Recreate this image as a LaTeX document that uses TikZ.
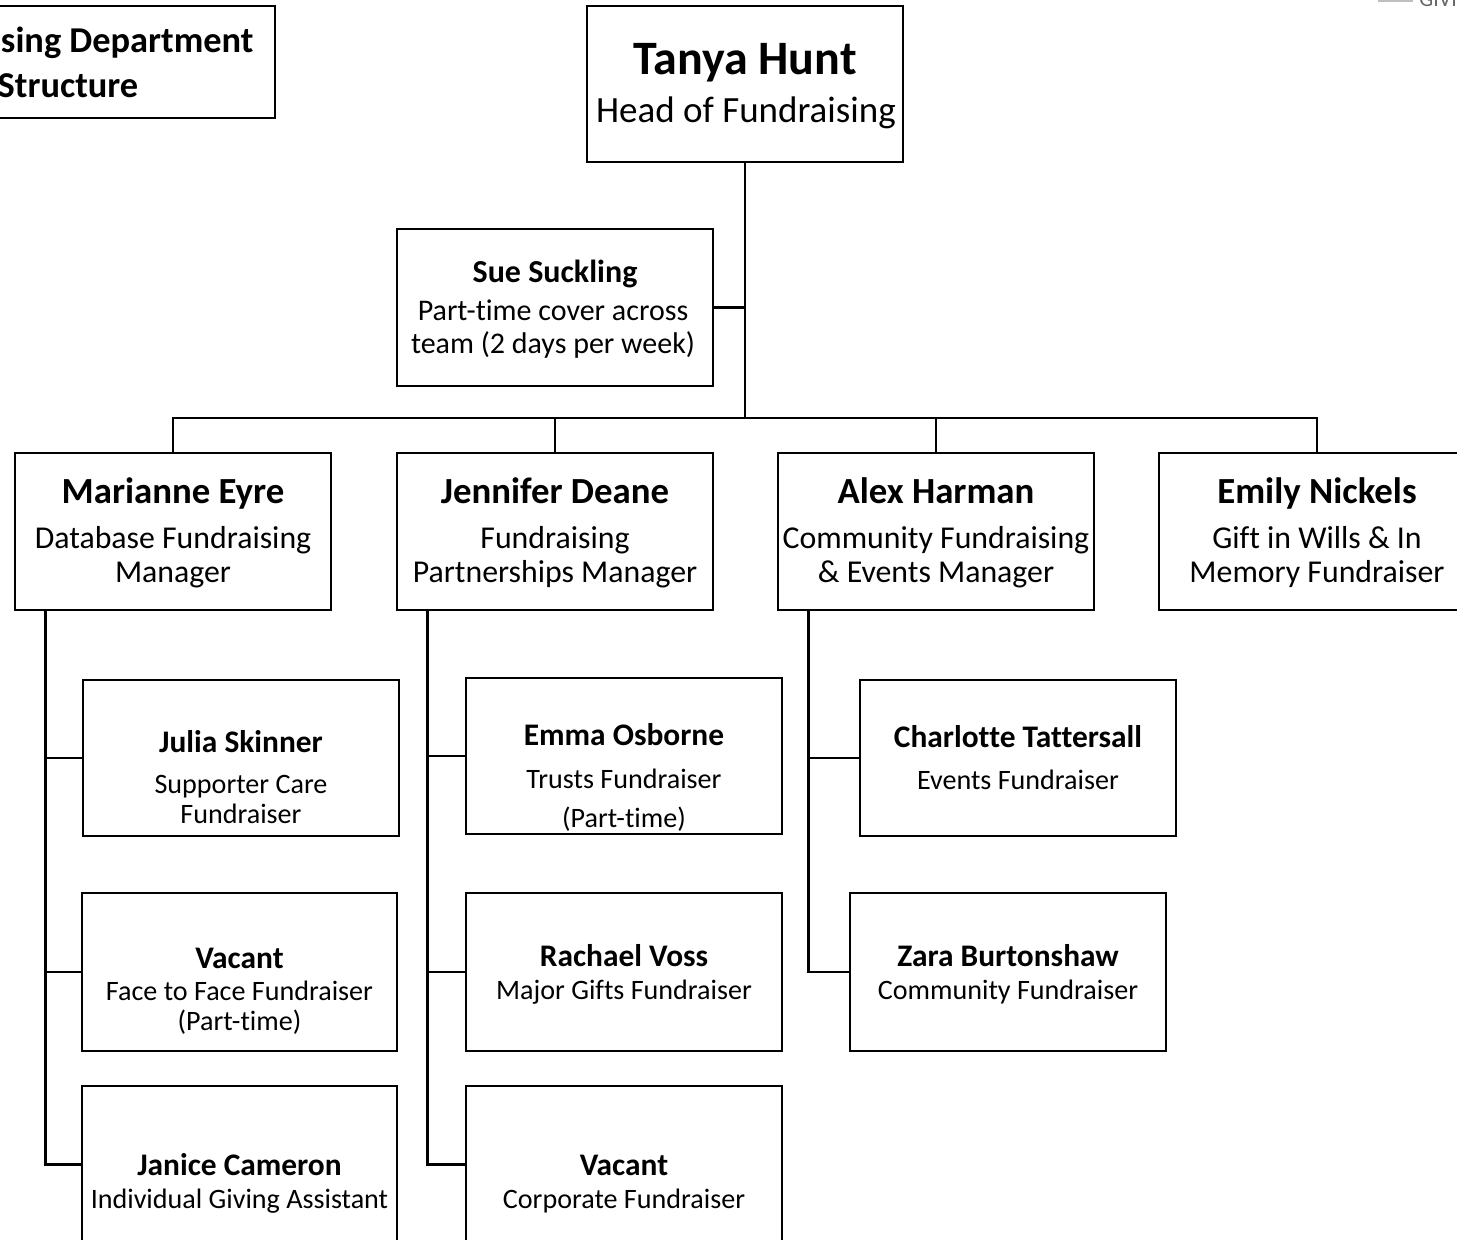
\documentclass[tikz,border=0pt]{standalone}
\usepackage{fontspec}
\setmainfont{Carlito}[Ligatures=NoCommon]
\begin{document}
\begin{tikzpicture}[x=0.5pt,y=-0.5pt,
  box/.style={draw, line width=1.4pt, minimum width=158pt, minimum height=78.5pt, inner sep=0pt},
  con/.style={line width=1.4pt},
  hdname/.style={anchor=base, inner sep=0pt, font=\bfseries\fontsize{24}{28}\selectfont},
  hdrole/.style={anchor=base, inner sep=0pt, font=\fontsize{18.5}{22}\selectfont},
  mgname/.style={anchor=base, inner sep=0pt, font=\bfseries\fontsize{18.4}{22}\selectfont},
  mgrole/.style={anchor=base, inner sep=0pt, font=\fontsize{15.9}{19}\selectfont},
  ssname/.style={anchor=base, inner sep=0pt, font=\bfseries\fontsize{16}{19}\selectfont},
  ssrole/.style={anchor=base, inner sep=0pt, font=\fontsize{15}{18}\selectfont},
  sbname/.style={anchor=base, inner sep=0pt, font=\bfseries\fontsize{15.7}{19}\selectfont},
  sbrole/.style={anchor=base, inner sep=0pt, font=\fontsize{14.05}{17}\selectfont}
]
\clip (0,0) rectangle (1457,1239);

% logo fragment
\coordinate (lg1) at (1378,1);
\coordinate (lg2) at (1413,1);
\draw[gray!50, line width=0.8pt] (lg1) -- (lg2);
\node[anchor=base west, inner sep=0pt, text=gray!80!black, font=\fontsize{11}{13}\selectfont] (gv) at (1419,6) {GIVI};

% title
\node[box, minimum width={414*0.5pt}, minimum height={112*0.5pt}] (tb) at (68,62) {};
\node[mgname, font=\bfseries\fontsize{18.2}{22}\selectfont] (tt1) at (70,52) {Fundraising Department};
\node[mgname, font=\bfseries\fontsize{18.2}{22}\selectfont] (tt2) at (68,97) {Structure};

% head
\node[box, minimum height=78pt] (th) at (745,84) {};
\node[hdname] (th1) at (745,74) {Tanya Hunt};
\node[hdrole] (th2) at (746,122) {Head of Fundraising};

% Sue
\node[box] (ss) at (555,307.5) {};
\node[ssname] (ss1) at (555,282) {Sue Suckling};
\node[ssrole] (ss2) at (553,320) {Part-time cover across};
\node[ssrole] (ss3) at (553,353) {team (2 days per week)};

% managers
\node[box] (me) at (173,531.5) {};
\node[mgname] (me1) at (173,503) {Marianne Eyre};
\node[mgrole] (me2) at (173,548) {Database Fundraising};
\node[mgrole] (me3) at (173,582) {Manager};

\node[box] (jd) at (555,531.5) {};
\node[mgname] (jd1) at (555,503) {Jennifer Deane};
\node[mgrole] (jd2) at (555,548) {Fundraising};
\node[mgrole] (jd3) at (555,582) {Partnerships Manager};

\node[box] (ah) at (936,531.5) {};
\node[mgname] (ah1) at (936,503) {Alex Harman};
\node[mgrole] (ah2) at (936,548) {Community Fundraising};
\node[mgrole] (ah3) at (936,582) {\& Events Manager};

\node[box] (en) at (1317,531.5) {};
\node[mgname] (en1) at (1317,503) {Emily Nickels};
\node[mgrole] (en2) at (1317,548) {Gift in Wills \& In};
\node[mgrole] (en3) at (1317,582) {Memory Fundraiser};

% Marianne's team
\node[box, minimum height=78pt] (js) at (241,758) {};
\node[sbname] (js1) at (241,752) {Julia Skinner};
\node[sbrole] (js2) at (241,793) {Supporter Care};
\node[sbrole] (js3) at (241,823) {Fundraiser};

\node[box, minimum width=157.5pt, minimum height=79pt] (vf) at (239.5,972) {};
\node[sbname] (vf1) at (239.5,968) {Vacant};
\node[sbrole] (vf2) at (239.5,1000) {Face to Face Fundraiser};
\node[sbrole] (vf3) at (239.5,1030) {(Part-time)};

\node[box, minimum width=157.5pt] (jc) at (239.5,1164.5) {};
\node[sbname] (jc1) at (239.5,1175) {Janice Cameron};
\node[sbrole] (jc2) at (239.5,1208) {Individual Giving Assistant};

% Jennifer's team
\node[box, minimum height=78pt] (eo) at (624,756) {};
\node[sbname] (eo1) at (624,745) {Emma Osborne};
\node[sbrole] (eo2) at (624,788) {Trusts Fundraiser};
\node[sbrole] (eo3) at (624,827) {(Part-time)};

\node[box, minimum height=79pt] (rv) at (624,972) {};
\node[sbname] (rv1) at (624,966) {Rachael Voss};
\node[sbrole] (rv2) at (624,999) {Major Gifts Fundraiser};

\node[box] (vc) at (624,1164.5) {};
\node[sbname] (vc1) at (624,1175) {Vacant};
\node[sbrole] (vc2) at (624,1208) {Corporate Fundraiser};

% Alex's team
\node[box, minimum height=78pt] (ct) at (1018,758) {};
\node[sbname] (ct1) at (1018,747) {Charlotte Tattersall};
\node[sbrole] (ct2) at (1018,789) {Events Fundraiser};

\node[box, minimum height=79pt] (zb) at (1008,972) {};
\node[sbname] (zb1) at (1008,966) {Zara Burtonshaw};
\node[sbrole] (zb2) at (1008,999) {Community Fundraiser};

% connectors
\coordinate (bus) at (745,418);
\draw[con] (th.south) -- (bus);
\draw[con] (ss.east) -- (ss.east -| th.south);
\draw[con] (me.north) |- (bus);
\draw[con] (en.north) |- (bus);
\draw[con] (jd.north) -- (jd.north |- bus);
\draw[con] (ah.north) -- (ah.north |- bus);

\coordinate (mv) at ([xshift=16pt]me.south west);
\draw[con] (mv) |- (jc.west);
\draw[con] (mv |- js.west) -- (js.west);
\draw[con] (mv |- vf.west) -- (vf.west);

\coordinate (jv) at ([xshift=16pt]jd.south west);
\draw[con] (jv) |- (vc.west);
\draw[con] (jv |- eo.west) -- (eo.west);
\draw[con] (jv |- rv.west) -- (rv.west);

\coordinate (av) at ([xshift=16pt]ah.south west);
\draw[con] (av) |- (zb.west);
\draw[con] (av |- ct.west) -- (ct.west);
\end{tikzpicture}
\end{document}
